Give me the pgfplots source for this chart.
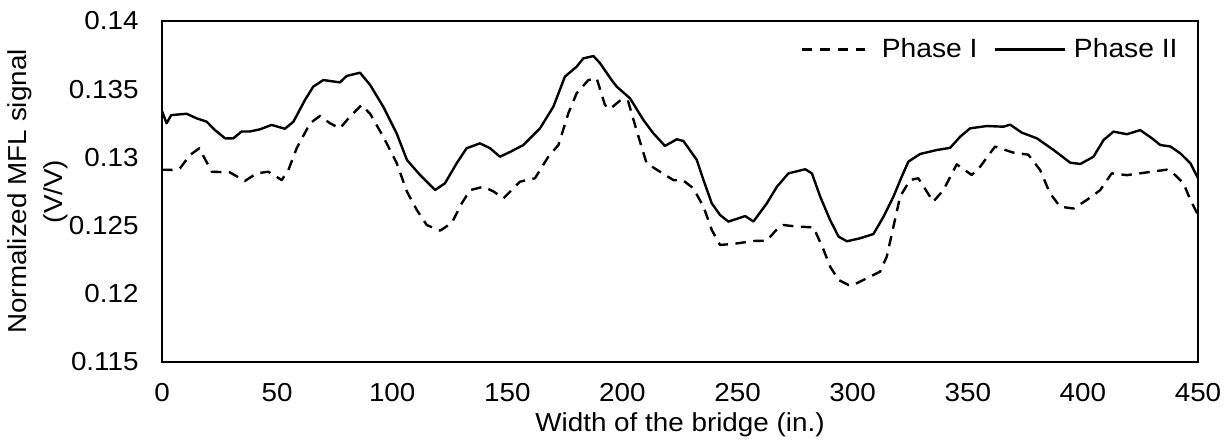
\documentclass[border=0pt]{standalone}
\usepackage{fontspec}
\setmainfont{Liberation Sans}[FakeStretch=1.07]
\usepackage{pgfplots}
\pgfplotsset{compat=1.18}
\pgfplotsset{
  dashleg/.style={legend image code/.code={\draw[##1] (0bp,0bp) -- (31.5bp,0bp); \path (35.5bp,0bp);}},
  solidleg/.style={legend image code/.code={\draw[##1] (0bp,0bp) -- (35bp,0bp);}},
}
\newcommand\tf{\fontsize{13bp}{16bp}\selectfont}
\newcommand\lf{\fontsize{13.2bp}{16bp}\selectfont}
\begin{document}
\begin{tikzpicture}
\useasboundingbox (0,0) rectangle (614bp,220.5bp);
\begin{axis}[
  at={(81bp,39.5bp)}, anchor=south west,
  scale only axis, width=518bp, height=170.5bp,
  xmin=0, xmax=450, ymin=0.115, ymax=0.14,
  xtick={0,50,...,450},
  ytick={0.115,0.12,0.125,0.13,0.135,0.14},
  major tick length=0pt,
  axis line style={line width=0.6pt},
  /pgf/number format/assume math mode=true,
  yticklabel style={/pgf/number format/fixed, /pgf/number format/precision=3, xshift=-8.2bp},
  tick label style={font=\tf},
  xticklabel style={yshift=-7.2bp},
  xlabel={Width of the bridge (in.)},
  xlabel style={font=\tf, at={([yshift=-31.5bp]axis description cs:0.5,0)}, anchor=center},
  ylabel={Normalized MFL signal\\[2bp](V/V)},
  ylabel style={font=\tf, align=center, at={([xshift=-62bp]axis description cs:0,0.5)}, anchor=center},
  legend columns=2,
  legend style={draw=none, fill=none, font=\lf, at={(axis description cs:1,1)}, anchor=north east,
    xshift=-10bp, yshift=-8.5bp, inner sep=0pt, nodes={inner sep=0pt},
    /tikz/every odd column/.append style={column sep=4bp},
    /tikz/every even column/.append style={column sep=8bp}},
]
\addplot[black, line width=1.2bp, dash pattern=on 5.25bp off 3.75bp, line join=round, dashleg] coordinates {
(0,0.1291)(4.2,0.12908)(7.8,0.1292)(12.2,0.13018)(16.2,0.13067)(21.6,0.12895)(29.5,0.1289)(36,0.12827)(41.1,0.12883)(46.2,0.12895)(52,0.12834)(54.9,0.12908)(58.5,0.13067)(64.3,0.1325)(68.6,0.13304)(73,0.1325)(77.3,0.13213)(81.7,0.133)(86.7,0.13384)(90.4,0.1332)(96.1,0.13152)(101.9,0.1296)(106.4,0.12749)(110.7,0.12614)(115,0.12504)(120.8,0.12463)(125.9,0.1252)(130.2,0.12663)(133.8,0.1276)(139.6,0.12785)(144,0.1275)(148.3,0.127)(155.5,0.12822)(162,0.12847)(167.8,0.13005)(172.2,0.13091)(176.5,0.13323)(180.1,0.1347)(185.2,0.13567)(188.8,0.1358)(192.4,0.13384)(194.6,0.13355)(199.6,0.13426)(202.5,0.1341)(206.1,0.132)(210.5,0.12957)(216.3,0.12895)(222.1,0.12834)(226.5,0.1283)(230.8,0.12773)(235.2,0.12639)(238.8,0.12468)(242.4,0.12358)(248.2,0.12366)(256.9,0.12387)(262.7,0.1239)(267.1,0.12473)(270,0.12504)(275.8,0.12493)(283,0.12487)(287.4,0.12321)(290.2,0.12199)(293.9,0.12101)(298.2,0.12065)(300.3,0.12065)(306.1,0.12114)(311.9,0.12162)(314.8,0.12272)(317.7,0.12492)(320.6,0.12712)(324.9,0.12834)(328.5,0.12847)(335,0.12675)(339.4,0.1276)(345.2,0.12949)(351.7,0.12871)(355.3,0.1293)(361.8,0.13079)(369.8,0.13035)(376.3,0.1302)(381.4,0.12908)(385.7,0.12737)(390.1,0.12639)(395.9,0.12625)(401.7,0.12688)(407.5,0.1276)(412.5,0.12883)(419.1,0.1287)(427.8,0.1289)(436.4,0.1291)(439.3,0.12883)(443.7,0.1281)(446.7,0.12688)(450,0.12578)
};
\addlegendentry{Phase I}
\addplot[black, line width=1.2bp, line join=round, solidleg] coordinates {
(0,0.1334)(2,0.1325)(4,0.1331)(10.7,0.1332)(15.1,0.13286)(19.4,0.13262)(23,0.1320)(27.4,0.1314)(31,0.1314)(34.6,0.1319)(38.2,0.1319)(42.6,0.13206)(47.6,0.13238)(53.4,0.1321)(57.1,0.13262)(62.1,0.13421)(65.7,0.13519)(70.1,0.13567)(77.3,0.1355)(80.2,0.13597)(86,0.13621)(90.4,0.13531)(96.1,0.13372)(101.9,0.13177)(106.4,0.12981)(112.1,0.12871)(118.6,0.12761)(122.9,0.1281)(128,0.12957)(132.3,0.13067)(138.1,0.13103)(142.5,0.13067)(146.8,0.13005)(151.2,0.1304)(157,0.13091)(164.2,0.13213)(170,0.13372)(175,0.13592)(180.1,0.13665)(183,0.13726)(187.4,0.13743)(190.3,0.1369)(195.3,0.13567)(197.5,0.13519)(203.3,0.13433)(209.1,0.13274)(213.4,0.13177)(218.5,0.13084)(223.6,0.13133)(226.5,0.1312)(232.3,0.12981)(235.2,0.12834)(238.8,0.12663)(242.4,0.12578)(246,0.12529)(253.3,0.1257)(256.9,0.1253)(262.7,0.12663)(267.1,0.12785)(272.1,0.12883)(279.4,0.12913)(282.3,0.12883)(285.9,0.12712)(290.2,0.12541)(293.9,0.12419)(297.5,0.12385)(303.2,0.12407)(309,0.12438)(313.4,0.12565)(317.7,0.12712)(321.3,0.12859)(324.2,0.12969)(329.3,0.13025)(336.5,0.13054)(342.3,0.1307)(346.7,0.13152)(351,0.13213)(358.3,0.1323)(365.5,0.13225)(368.4,0.1324)(373.5,0.13181)(380,0.1314)(387.3,0.13054)(394.5,0.12961)(398.9,0.12952)(404.6,0.13005)(409,0.13128)(413.3,0.13189)(419.1,0.1317)(424.9,0.132)(430,0.1314)(433.6,0.13091)(438,0.1308)(442.3,0.1303)(446.7,0.12957)(450,0.12847)
};
\addlegendentry{Phase II}
\end{axis}
\end{tikzpicture}
\end{document}
